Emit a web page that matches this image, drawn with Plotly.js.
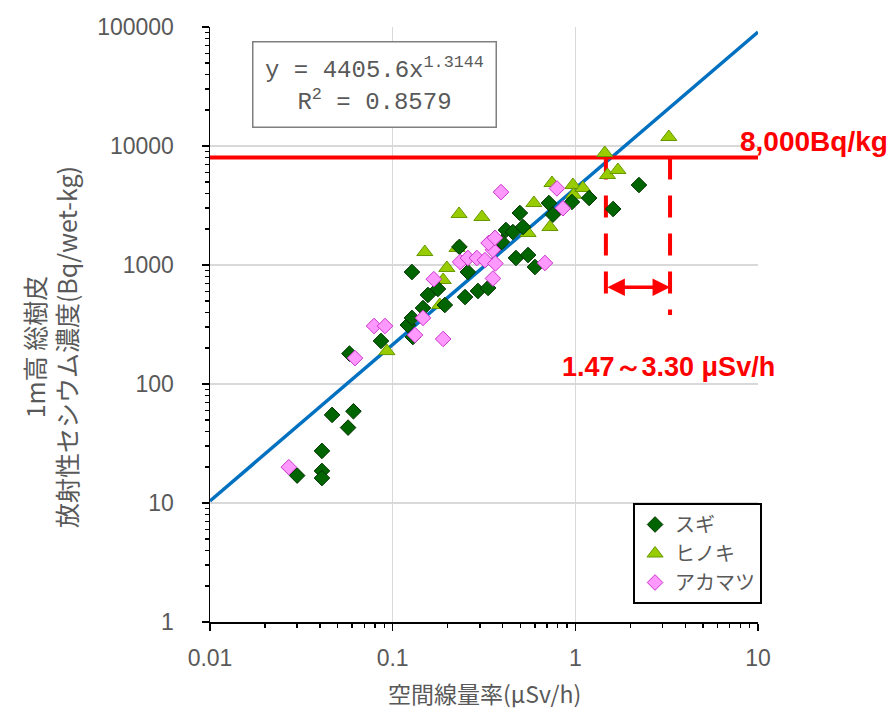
<!DOCTYPE html>
<html>
<head>
<meta charset="utf-8">
<script src="https://cdn.plot.ly/plotly-3.0.1.min.js"></script>
<style>html,body{margin:0;padding:0;background:#fff;}#chart{width:896px;height:714px;}</style>
</head>
<body>
<div id="chart"></div>
<script>
// ---- data ----
const sugiX = [0.030, 0.041, 0.041, 0.041, 0.0466, 0.057, 0.061, 0.058, 0.0863, 0.121, 0.1275, 0.129, 0.1275, 0.1466, 0.156, 0.177, 0.193, 0.249, 0.293, 0.333, 0.258, 0.232, 0.372, 0.396, 0.417, 0.455, 0.517, 0.497, 0.473, 0.551, 0.601, 0.717, 0.754, 0.958, 1.19, 1.61, 2.23];
const sugiY = [17, 18.6, 16.2, 27.4, 55, 43, 59, 180, 230, 313, 359, 248, 873, 435, 560, 629, 461, 538, 605, 641, 873, 1420, 1445, 1561, 1968, 1893, 2085, 2735, 1145, 1213, 962, 3318, 2650, 3383, 3656, 2956, 4700];

const hinokiX = [0.093, 0.150, 0.181, 0.189, 0.198, 0.225, 0.231, 0.308, 0.551, 0.593, 0.726, 0.745, 0.97, 0.98, 1.10, 1.45, 1.50, 1.71, 3.25];
const hinokiY = [189, 1285, 461, 748, 944, 1390, 2684, 2531, 1858, 3318, 2085, 4887, 4700, 3900, 4436, 8733, 5706, 6285, 11900];

const akamatsuX = [0.027, 0.0791, 0.0908, 0.0622, 0.1325, 0.1466, 0.168, 0.189, 0.234, 0.258, 0.289, 0.32, 0.354, 0.365, 0.354, 0.335, 0.363, 0.392, 0.682, 0.793, 0.855];
const akamatsuY = [20, 307, 307, 165, 258, 359, 760, 239, 1060, 1145, 1145, 1100, 770, 1030, 1340, 1530, 1690, 4100, 1040, 4400, 3000];

// fitted trend line end points (y = 4405.6x^1.3144)
const fitX = [0.01, 10];
const fitY = [10.4, 90800];

// threshold and the range where the fit crosses it
const limitX = [0.01, 10];
const limitY = [8000, 8000];
const rangeLowX = [1.47, 1.47];
const rangeLowY = [8000, 540];
const rangeHighX = [3.30, 3.30];
const rangeHighY = [8000, 380];
const arrowY = 650;

const xTickVals = [0.01, 0.1, 1, 10];
const xTickText = ["0.01", "0.1", "1", "10"];
const yTickVals = [1, 10, 100, 1000, 10000, 100000];
const yTickText = ["1", "10", "100", "1000", "10000", "100000"];

const seriesNames = ["スギ", "ヒノキ", "アカマツ"];

const gray = "#595959";
const jp = "Noto Sans CJK JP, sans-serif";
const sans = "Liberation Sans, Arial, sans-serif";

const traces = [
  {x: fitX, y: fitY, mode: "lines", line: {color: "#0070C0", width: 3.5}, showlegend: false, hoverinfo: "skip"},
  {x: limitX, y: limitY, mode: "lines", line: {color: "#FF0000", width: 4}, showlegend: false, hoverinfo: "skip"},
  {x: rangeLowX, y: rangeLowY, mode: "lines", line: {color: "#FF0000", width: 4, dash: "22px,16px"}, showlegend: false, hoverinfo: "skip"},
  {x: rangeHighX, y: rangeHighY, mode: "lines", line: {color: "#FF0000", width: 4, dash: "22px,16px"}, showlegend: false, hoverinfo: "skip"},
  {x: hinokiX, y: hinokiY, name: seriesNames[1], legendrank: 2, mode: "markers", type: "scatter",
   marker: {symbol: "triangle-up", size: 14, color: "#99CC00", line: {color: "#669900", width: 1}}},
  {x: sugiX, y: sugiY, name: seriesNames[0], legendrank: 1, mode: "markers", type: "scatter",
   marker: {symbol: "diamond", size: 12, color: "#006400", line: {color: "#003300", width: 1}}},
  {x: akamatsuX, y: akamatsuY, name: seriesNames[2], legendrank: 3, mode: "markers", type: "scatter",
   marker: {symbol: "diamond", size: 12, color: "#FF99FF", line: {color: "#CC33CC", width: 1}}}
];

const layout = {
  width: 896, height: 714,
  margin: {l: 210, r: 138, t: 27, b: 92},
  paper_bgcolor: "#ffffff", plot_bgcolor: "#ffffff",
  showlegend: true,
  legend: {
    x: 0.772, y: 0.2, xanchor: "left", yanchor: "top",
    bgcolor: "#ffffff", bordercolor: "#000000", borderwidth: 2,
    font: {family: jp, size: 20, color: gray},
    traceorder: "normal", itemwidth: 30, tracegroupgap: 0
  },
  xaxis: {
    type: "log", range: [-2, 1],
    tickvals: xTickVals, ticktext: xTickText,
    tickfont: {family: sans, size: 23, color: gray},
    ticklabelstandoff: 8,
    showgrid: true, gridcolor: "#d9d9d9", gridwidth: 1.5,
    showline: true, linecolor: "#000000", linewidth: 1.5,
    ticks: "outside", ticklen: 7, tickcolor: "#000000", tickwidth: 1.5,
    minor: {ticks: "outside", ticklen: 4, tickcolor: "#000000", dtick: "D1", showgrid: false},
    zeroline: false, fixedrange: true,
    title: {text: ""}
  },
  yaxis: {
    type: "log", range: [0, 5],
    tickvals: yTickVals, ticktext: yTickText,
    tickfont: {family: sans, size: 23, color: gray},
    showgrid: true, gridcolor: "#d9d9d9", gridwidth: 1.5,
    showline: true, linecolor: "#000000", linewidth: 1.5,
    ticks: "outside", ticklen: 7, tickcolor: "#000000", tickwidth: 1.5,
    minor: {ticks: "outside", ticklen: 4, tickcolor: "#000000", dtick: "D1", showgrid: false},
    ticklabelstandoff: 23,
    zeroline: false, fixedrange: true,
    title: {text: ""}
  },
  annotations: [
    {xref: "paper", yref: "paper", x: 0.301, y: 0.904, xanchor: "center", yanchor: "middle",
     text: "y = 4405.6x<sup>1.3144</sup><br>R<sup>2</sup> = 0.8579", showarrow: false, align: "center",
     width: 238, height: 80, bgcolor: "#ffffff", bordercolor: "#7f7f7f", borderwidth: 1.5, borderpad: 2,
     font: {family: "Liberation Mono, DejaVu Sans Mono, monospace", size: 24, color: gray}},
    {xref: "paper", yref: "paper", x: 1.102, y: 0.807, xanchor: "center", yanchor: "middle",
     text: "<b>8,000Bq/kg</b>", showarrow: false,
     font: {family: sans, size: 28, color: "#FF0000"}},
    {xref: "paper", yref: "paper", x: 0.836, y: 0.428, xanchor: "center", yanchor: "middle",
     text: "<b>1.47～3.30 μSv/h</b>", showarrow: false,
     font: {family: sans, size: 27, color: "#FF0000"}},
    {xref: "x", yref: "y", axref: "x", ayref: "y",
     x: Math.log10(rangeHighX[0]), y: Math.log10(arrowY),
     ax: Math.log10(rangeLowX[0]), ay: Math.log10(arrowY),
     text: "", showarrow: true, arrowhead: 2, arrowside: "end+start", arrowsize: 1, arrowwidth: 3.5, arrowcolor: "#FF0000",
     standoff: 0, startstandoff: 0},
    {xref: "paper", yref: "paper", x: -0.292, y: 0.462, xanchor: "center", yanchor: "middle",
     text: "1m高 総樹皮<br>放射性セシウム濃度(Bq/wet-kg)", textangle: -90, showarrow: false,
     font: {family: jp, size: 25, color: gray}},
    {xref: "paper", yref: "paper", x: 0.5, y: -0.12, xanchor: "center", yanchor: "middle",
     text: "空間線量率(μSv/h)", showarrow: false,
     font: {family: jp, size: 23, color: gray}}
  ]
};

Plotly.newPlot("chart", traces, layout, {displayModeBar: false, staticPlot: true});
</script>
</body>
</html>
